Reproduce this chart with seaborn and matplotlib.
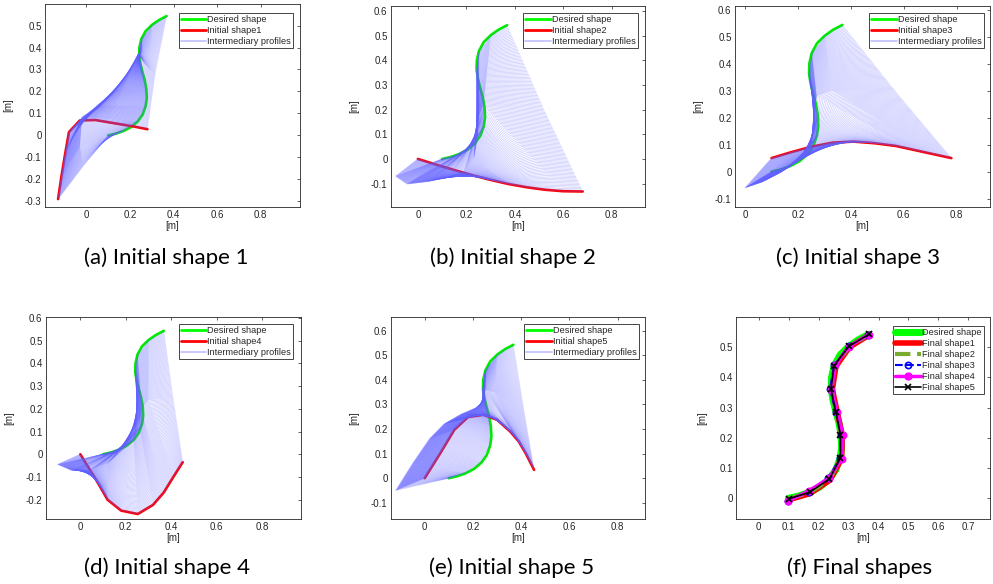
import numpy as np
import pandas as pd
import matplotlib
matplotlib.use("Agg")
import matplotlib.pyplot as plt
from matplotlib.lines import Line2D
from matplotlib.ticker import FuncFormatter
import seaborn as sns

sns.set_theme(style="white")
plt.rcParams['font.family'] = ['Liberation Sans', 'DejaVu Sans']
plt.rcParams['axes.unicode_minus'] = False

# ---------------- data ----------------
# desired shape: nodes used by the profiles, and the smooth drawn curve
desired_x = [0.100, 0.170, 0.236, 0.273, 0.273, 0.258, 0.241, 0.252, 0.301, 0.368]
desired_y = [0.000, 0.020, 0.064, 0.134, 0.210, 0.285, 0.362, 0.439, 0.503, 0.543]
desired_curve_x = [0.100, 0.135, 0.170, 0.205, 0.236, 0.258, 0.272, 0.277, 0.275, 0.268,
                   0.258, 0.248, 0.242, 0.243, 0.252, 0.272, 0.301, 0.333, 0.368]
desired_curve_y = [0.000, 0.008, 0.020, 0.038, 0.064, 0.095, 0.134, 0.170, 0.210, 0.250,
                   0.285, 0.325, 0.362, 0.400, 0.439, 0.475, 0.503, 0.525, 0.543]

# panel (a)
init1_x = [-0.130, -0.115, -0.098, -0.080, -0.030, 0.040, 0.100, 0.160, 0.220, 0.280]
init1_y = [-0.290, -0.190, -0.087, 0.015, 0.068, 0.070, 0.060, 0.050, 0.040, 0.028]
mid1_x = [-0.015, -0.030, -0.020, 0.064, 0.140, 0.200, 0.238, 0.265, 0.290, 0.315]
mid1_y = [-0.140, -0.050, 0.085, 0.135, 0.210, 0.300, 0.370, 0.330, 0.300, 0.280]

# panel (b)
init2_x = [0.000, 0.075, 0.150, 0.225, 0.300, 0.375, 0.450, 0.525, 0.600, 0.680]
init2_y = [0.000, -0.023, -0.045, -0.066, -0.085, -0.102, -0.115, -0.125, -0.131, -0.132]
mid2_x = [-0.092, -0.045, 0.040, 0.120, 0.190, 0.230, 0.245, 0.250, 0.270, 0.520]
mid2_y = [-0.070, -0.102, -0.092, -0.075, -0.050, 0.000, 0.080, 0.170, 0.220, 0.200]

# panel (c)
init3_x = [0.100, 0.175, 0.250, 0.330, 0.410, 0.490, 0.570, 0.640, 0.710, 0.780]
init3_y = [0.050, 0.072, 0.092, 0.107, 0.111, 0.105, 0.095, 0.080, 0.065, 0.050]
mid3_x = [0.000, 0.060, 0.130, 0.200, 0.245, 0.260, 0.265, 0.270, 0.330, 0.570]
mid3_y = [-0.060, -0.040, -0.005, 0.040, 0.090, 0.160, 0.230, 0.280, 0.300, 0.295]

# panel (d)
init4_x = [0.000, 0.040, 0.080, 0.120, 0.180, 0.253, 0.320, 0.367, 0.411, 0.451]
init4_y = [0.000, -0.065, -0.130, -0.200, -0.248, -0.263, -0.223, -0.169, -0.098, -0.035]
mid4_x = [-0.100, -0.040, 0.040, 0.120, 0.190, 0.235, 0.260, 0.270, 0.300, 0.408]
mid4_y = [-0.045, -0.070, -0.070, -0.040, 0.020, 0.065, 0.130, 0.200, 0.240, 0.250]

# panel (e)
init5_x = [0.000, 0.065, 0.123, 0.180, 0.244, 0.300, 0.355, 0.390, 0.420, 0.454]
init5_y = [0.000, 0.102, 0.197, 0.249, 0.258, 0.238, 0.190, 0.150, 0.100, 0.034]
mid5_x = [-0.120, -0.050, 0.020, 0.080, 0.150, 0.210, 0.245, 0.250, 0.290, 0.410]
mid5_y = [-0.050, 0.060, 0.160, 0.220, 0.260, 0.285, 0.310, 0.360, 0.350, 0.287]

# panel (f) final shapes
final1_x = [0.100, 0.170, 0.238, 0.277, 0.279, 0.262, 0.246, 0.258, 0.303, 0.368]
final1_y = [-0.005, 0.015, 0.060, 0.132, 0.210, 0.286, 0.360, 0.437, 0.500, 0.540]
final2_x = [0.100, 0.171, 0.237, 0.275, 0.276, 0.260, 0.243, 0.254, 0.302, 0.368]
final2_y = [-0.002, 0.019, 0.063, 0.133, 0.210, 0.285, 0.361, 0.438, 0.502, 0.542]
final3_x = [0.098, 0.168, 0.232, 0.273, 0.275, 0.258, 0.238, 0.252, 0.300, 0.366]
final3_y = [-0.008, 0.022, 0.068, 0.134, 0.210, 0.285, 0.362, 0.440, 0.503, 0.542]
final4_x = [0.097, 0.168, 0.234, 0.278, 0.281, 0.263, 0.243, 0.256, 0.300, 0.367]
final4_y = [-0.010, 0.025, 0.066, 0.131, 0.210, 0.285, 0.360, 0.440, 0.502, 0.542]
final5_x = [0.100, 0.170, 0.236, 0.273, 0.273, 0.258, 0.241, 0.252, 0.301, 0.368]
final5_y = [-0.002, 0.020, 0.064, 0.134, 0.210, 0.285, 0.362, 0.439, 0.503, 0.543]

captions = ["(a) Initial shape 1", "(b) Initial shape 2", "(c) Initial shape 3",
            "(d) Initial shape 4", "(e) Initial shape 5", "(f) Final shapes"]

# ---------------- layout ----------------
W, H = 993, 584
fig = plt.figure(figsize=(W / 100, H / 100), dpi=100)

def axes_px(l, t, r, b):
    return fig.add_axes([l / W, 1 - b / H, (r - l) / W, (b - t) / H])

AX_GREY = (0.15, 0.15, 0.15)
GREEN = (0.0, 0.92, 0.0)
RED = (1.0, 0.0, 0.0)
BLUE = (0.38, 0.38, 1.0)
TICK_FS = 7.0
LEG_FS = 6.6

fmt = FuncFormatter(lambda v, p: f"{round(v, 3):g}")

def style_axes(ax, xlim, ylim, xticks, yticks, ylab_x):
    ax.set_xlim(*xlim)
    ax.set_ylim(*ylim)
    ax.set_xticks(xticks)
    ax.set_yticks(yticks)
    ax.xaxis.set_major_formatter(fmt)
    ax.yaxis.set_major_formatter(fmt)
    ax.tick_params(direction='in', length=2.5, width=0.5, colors=AX_GREY,
                   labelsize=TICK_FS, top=True, right=True, pad=2.5)
    for s in ax.spines.values():
        s.set_color(AX_GREY)
        s.set_linewidth(0.6)
        s.set_visible(True)
    ax.grid(False)
    ax.set_xlabel("[m]", fontsize=TICK_FS, color=AX_GREY)
    ax.set_ylabel("[m]", fontsize=TICK_FS, color=AX_GREY)
    ax.xaxis.set_label_coords(0.5, -0.07)
    ax.yaxis.set_label_coords(ylab_x, 0.5)

def profiles(keys, n_per=60):
    rows = []
    pid = 0
    for k in range(len(keys) - 1):
        a = np.array(keys[k]); b = np.array(keys[k + 1])
        last = (k == len(keys) - 2)
        ts = np.linspace(0, 1, n_per + 1)[:-1] if not last else np.linspace(0, 0.985, n_per)
        for t in ts:
            p = (1 - t) * a + t * b
            for j in range(p.shape[0]):
                rows.append((pid, j, p[j, 0], p[j, 1]))
            pid += 1
    return pd.DataFrame(rows, columns=["profile", "node", "x", "y"])

def shape_panel(ax, init_x, init_y, mid_x, mid_y, label, lim, yticks, legend_anchor, ylab_x):
    d = pd.DataFrame({"x": desired_curve_x, "y": desired_curve_y})
    i = pd.DataFrame({"x": init_x, "y": init_y})
    sns.lineplot(data=d, x="x", y="y", sort=False, estimator=None, color=GREEN, lw=1.9, ax=ax)
    sns.lineplot(data=i, x="x", y="y", sort=False, estimator=None, color=RED, lw=1.9, ax=ax)
    keys = [np.column_stack([init_x, init_y]), np.column_stack([mid_x, mid_y]),
            np.column_stack([desired_x, desired_y])]
    prof = profiles(keys)
    sns.lineplot(data=prof, x="x", y="y", units="profile", estimator=None, sort=False,
                 color=BLUE, lw=0.55, alpha=0.3, ax=ax, legend=False)
    style_axes(ax, lim[0], lim[1], np.arange(0, 0.81, 0.2), yticks, ylab_x)
    handles = [Line2D([], [], color=(0, 1, 0), lw=2),
               Line2D([], [], color=RED, lw=2),
               Line2D([], [], color=(0.75, 0.75, 1.0), lw=1.2)]
    leg = ax.legend(handles, ["Desired shape", label, "Intermediary profiles"],
                    loc="upper right", bbox_to_anchor=legend_anchor, borderaxespad=0,
                    fontsize=LEG_FS, handlelength=2.8, handletextpad=0.12,
                    labelspacing=0.22, borderpad=0.22, fancybox=False, framealpha=1)
    leg.get_frame().set_edgecolor(AX_GREY)
    leg.get_frame().set_linewidth(0.6)

ax_a = axes_px(45, 4, 300, 207)
shape_panel(ax_a, init1_x, init1_y, mid1_x, mid1_y, "Initial shape1",
            ((-0.19, 0.98), (-0.326, 0.598)), np.arange(-0.3, 0.51, 0.1), (0.973, 0.956), -0.125)

ax_b = axes_px(391, 6, 645, 207)
shape_panel(ax_b, init2_x, init2_y, mid2_x, mid2_y, "Initial shape2",
            ((-0.111, 0.937), (-0.195, 0.621)), np.arange(-0.1, 0.61, 0.1), (0.972, 0.964), -0.126)

ax_c = axes_px(735, 6, 990, 207)
shape_panel(ax_c, init3_x, init3_y, mid3_x, mid3_y, "Initial shape3",
            ((-0.038, 0.926), (-0.131, 0.613)), np.arange(-0.1, 0.61, 0.1), (0.976, 0.965), -0.125)

ax_d = axes_px(46, 317, 301, 519)
shape_panel(ax_d, init4_x, init4_y, mid4_x, mid4_y, "Initial shape4",
            ((-0.151, 0.972), (-0.285, 0.604)), np.arange(-0.2, 0.61, 0.1), (0.969, 0.965), -0.125)

ax_e = axes_px(391, 317, 645, 519)
shape_panel(ax_e, init5_x, init5_y, mid5_x, mid5_y, "Initial shape5",
            ((-0.1395, 0.914), (-0.166, 0.656)), np.arange(-0.1, 0.61, 0.1), (0.976, 0.965), -0.126)

# panel (f)
ax_f = axes_px(736, 317, 990, 519)
finals = [
    (desired_curve_x, desired_curve_y, dict(color=(0, 1, 0), lw=5.0)),
    (final1_x, final1_y, dict(color=RED, lw=4.0)),
    (final2_x, final2_y, dict(color=(0.47, 0.67, 0.19), lw=3.0, linestyle="--")),
    (final3_x, final3_y, dict(color=(0, 0, 1), lw=1.5, linestyle="--", marker="o",
                              markersize=4.5, markerfacecolor="none",
                              markeredgecolor=(0, 0, 1), markeredgewidth=1.2)),
    (final4_x, final4_y, dict(color=(1, 0, 1), lw=2.5, marker="o", markersize=5,
                              markerfacecolor=(1, 0, 1), markeredgecolor=(1, 0, 1))),
    (final5_x, final5_y, dict(color="black", lw=1.2, marker="x", markersize=4,
                              markeredgecolor="black", markeredgewidth=1.2)),
]
final_labels = ["Desired shape", "Final shape1", "Final shape2", "Final shape3",
                "Final shape4", "Final shape5"]
handles = []
for fx, fy, kw in finals:
    df = pd.DataFrame({"x": fx, "y": fy})
    sns.lineplot(data=df, x="x", y="y", sort=False, estimator=None, ax=ax_f, **kw)
    handles.append(Line2D([], [], **kw))
style_axes(ax_f, (-0.0756, 0.772), (-0.0686, 0.6), np.arange(0, 0.71, 0.1),
           np.arange(0, 0.51, 0.1), -0.114)
leg = ax_f.legend(handles, final_labels, loc="upper right", bbox_to_anchor=(0.976, 0.955),
                  borderaxespad=0, fontsize=LEG_FS, handlelength=2.9, handletextpad=0.12,
                  labelspacing=0.22, borderpad=0.22, fancybox=False, framealpha=1)
leg.get_frame().set_edgecolor(AX_GREY)
leg.get_frame().set_linewidth(0.6)

# captions
cap_pos = [(166, 258), (513, 258), (858, 258), (167, 568), (512, 568), (860, 568)]
for (cx, cy), txt in zip(cap_pos, captions):
    fig.text(cx / W, 1 - cy / H, txt, ha="center", va="center", fontsize=16,
             family=["Lato", "DejaVu Sans"], color="black")

fig.savefig("out.png", dpi=100)
